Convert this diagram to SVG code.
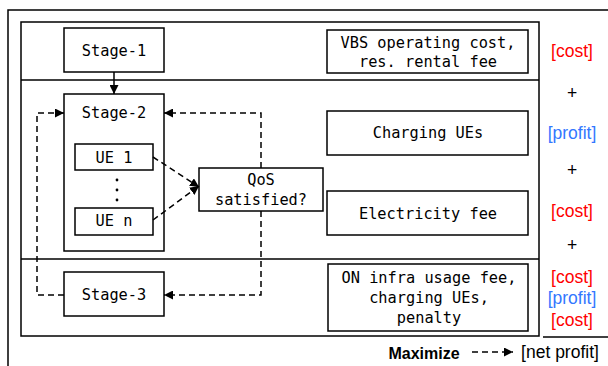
<svg xmlns="http://www.w3.org/2000/svg" width="608" height="366" viewBox="0 0 608 366">
  <style>
    .box { fill: #fff; stroke: #000; stroke-width: 1.5; }
    .frame { fill: none; stroke: #000; stroke-width: 1.5; }
    .mono { font-family: "DejaVu Sans Mono", "Liberation Mono", monospace; font-size: 15.3px; fill: #000; text-anchor: middle; }
    .lbl { font-family: "Liberation Sans", Arial, sans-serif; font-size: 17.5px; text-anchor: middle; }
    .cost { fill: #ff0000; }
    .profit { fill: #3377ff; }
    .plus { fill: #000; }
    .solid { fill: none; stroke: #000; stroke-width: 1.5; }
    .dash { fill: none; stroke: #000; stroke-width: 1.5; stroke-dasharray: 6 4; }
  </style>
  <defs>
    <marker id="tri8" viewBox="0 0 10 10" refX="10" refY="5" markerWidth="9" markerHeight="9" markerUnits="userSpaceOnUse" orient="auto">
      <path d="M0,0 L10,5 L0,10 z" fill="#000"/>
    </marker>
  </defs>

  <rect width="608" height="366" fill="#fff"/>

  <!-- outer frame and stage bands -->
  <g id="frame">
    <path class="frame" d="M8,366 V10 H608"/>
    <rect class="frame" x="21" y="22" width="518" height="314"/>
    <line class="frame" x1="21" y1="80" x2="539" y2="80"/>
    <line class="frame" x1="21" y1="259" x2="539" y2="259"/>
    <line class="frame" x1="543" y1="337" x2="608" y2="337"/>
  </g>

  <g id="stage1">
    <rect class="box" x="64" y="28" width="100" height="44"/>
    <text class="mono" x="114" y="56">Stage-1</text>
  </g>

  <g id="stage2">
    <rect class="box" x="64" y="94" width="100" height="157"/>
    <text class="mono" x="114" y="118">Stage-2</text>
  </g>

  <g id="ue1">
    <rect class="box" x="75" y="144" width="78" height="26"/>
    <text class="mono" x="114" y="163">UE 1</text>
  </g>

  <g id="ue-dots">
    <circle cx="117" cy="180" r="1.4" fill="#000"/>
    <circle cx="117" cy="190" r="1.4" fill="#000"/>
    <circle cx="117" cy="200" r="1.4" fill="#000"/>
  </g>

  <g id="uen">
    <rect class="box" x="75" y="208" width="78" height="27"/>
    <text class="mono" x="114" y="226">UE n</text>
  </g>

  <g id="qos">
    <rect class="box" x="199" y="168" width="124" height="43"/>
    <text class="mono" x="261" y="185">QoS</text>
    <text class="mono" x="261" y="205">satisfied?</text>
  </g>

  <g id="stage3">
    <rect class="box" x="64" y="272" width="100" height="44"/>
    <text class="mono" x="114" y="300">Stage-3</text>
  </g>

  <g id="vbs-cost">
    <rect class="box" x="327" y="30" width="201" height="43"/>
    <text class="mono" x="428" y="48">VBS operating cost,</text>
    <text class="mono" x="428" y="67">res. rental fee</text>
  </g>

  <g id="charging">
    <rect class="box" x="327" y="111" width="201" height="44"/>
    <text class="mono" x="428" y="138">Charging UEs</text>
  </g>

  <g id="electricity">
    <rect class="box" x="327" y="191" width="201" height="44"/>
    <text class="mono" x="428" y="219">Electricity fee</text>
  </g>

  <g id="on-infra">
    <rect class="box" x="328" y="264" width="200" height="67"/>
    <text class="mono" x="429" y="283">ON infra usage fee,</text>
    <text class="mono" x="429" y="303">charging UEs,</text>
    <text class="mono" x="429" y="323">penalty</text>
  </g>

  <g id="terms">
    <text class="lbl cost" x="572" y="57">[cost]</text>
    <text class="lbl plus" x="572" y="99">+</text>
    <text class="lbl profit" x="572" y="139">[profit]</text>
    <text class="lbl plus" x="572" y="176">+</text>
    <text class="lbl cost" x="572" y="217">[cost]</text>
    <text class="lbl plus" x="572" y="251">+</text>
    <text class="lbl cost" x="572" y="283">[cost]</text>
    <text class="lbl profit" x="572" y="304">[profit]</text>
    <text class="lbl cost" x="572" y="326">[cost]</text>
  </g>

  <g id="objective">
    <text x="424" y="359" font-family="Liberation Sans, Arial, sans-serif" font-size="16" font-weight="bold" text-anchor="middle">Maximize</text>
    <text x="560" y="358" font-family="Liberation Sans, Arial, sans-serif" font-size="17.5" text-anchor="middle">[net profit]</text>
  </g>

  <!-- connectors -->
  <g id="connectors">
    <line class="solid" x1="114" y1="72" x2="114" y2="94" marker-end="url(#tri8)"/>
    <line class="dash" x1="153" y1="157" x2="199" y2="187" marker-end="url(#tri8)"/>
    <line class="dash" x1="153" y1="220" x2="199" y2="186" marker-end="url(#tri8)"/>
    <polyline class="dash" points="261,168 261,113 164,113" marker-end="url(#tri8)"/>
    <polyline class="dash" points="261,211 261,295 164,295" marker-end="url(#tri8)"/>
    <polyline class="dash" points="64,295 37,295 37,113 64,113" marker-end="url(#tri8)"/>
    <line class="dash" x1="472" y1="352" x2="513" y2="352" marker-end="url(#tri8)"/>
  </g>
</svg>
